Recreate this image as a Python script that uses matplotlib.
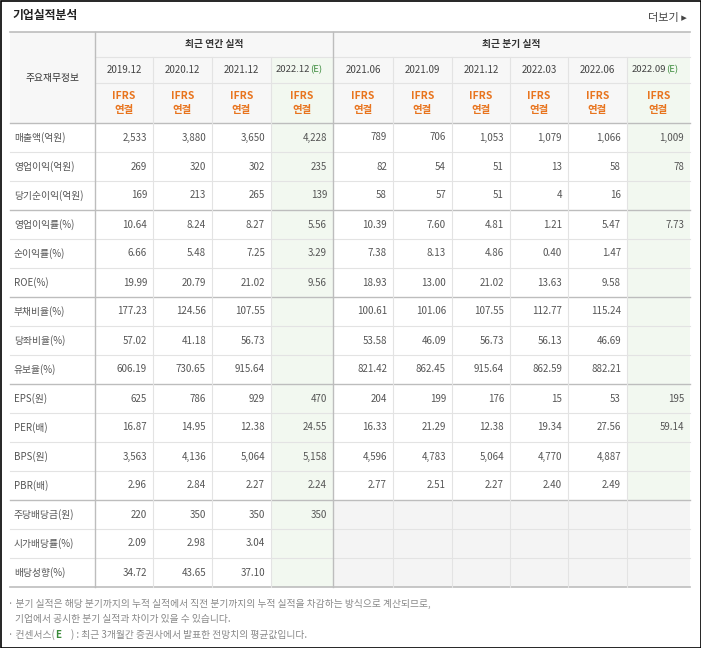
import matplotlib.pyplot as plt
from matplotlib.patches import Rectangle

plt.rcParams['font.family'] = ['Noto Sans CJK JP', 'Noto Sans CJK KR', 'Noto Sans CJK SC', 'DejaVu Sans']
plt.rcParams['axes.unicode_minus'] = False

# ===== 데이터 =====
annual_periods = ['2019.12', '2020.12', '2021.12', '2022.12']
quarter_periods = ['2021.06', '2021.09', '2021.12', '2022.03', '2022.06', '2022.09']
row_labels = ['매출액(억원)', '영업이익(억원)', '당기순이익(억원)',
              '영업이익률(%)', '순이익률(%)', 'ROE(%)',
              '부채비율(%)', '당좌비율(%)', '유보율(%)',
              'EPS(원)', 'PER(배)', 'BPS(원)', 'PBR(배)',
              '주당배당금(원)', '시가배당률(%)', '배당성향(%)']
annual_values = [
    ['2,533', '3,880', '3,650', '4,228'],
    ['269', '320', '302', '235'],
    ['169', '213', '265', '139'],
    ['10.64', '8.24', '8.27', '5.56'],
    ['6.66', '5.48', '7.25', '3.29'],
    ['19.99', '20.79', '21.02', '9.56'],
    ['177.23', '124.56', '107.55', ''],
    ['57.02', '41.18', '56.73', ''],
    ['606.19', '730.65', '915.64', ''],
    ['625', '786', '929', '470'],
    ['16.87', '14.95', '12.38', '24.55'],
    ['3,563', '4,136', '5,064', '5,158'],
    ['2.96', '2.84', '2.27', '2.24'],
    ['220', '350', '350', '350'],
    ['2.09', '2.98', '3.04', ''],
    ['34.72', '43.65', '37.10', ''],
]
quarter_values = [
    ['789', '706', '1,053', '1,079', '1,066', '1,009'],
    ['82', '54', '51', '13', '58', '78'],
    ['58', '57', '51', '4', '16', ''],
    ['10.39', '7.60', '4.81', '1.21', '5.47', '7.73'],
    ['7.38', '8.13', '4.86', '0.40', '1.47', ''],
    ['18.93', '13.00', '21.02', '13.63', '9.58', ''],
    ['100.61', '101.06', '107.55', '112.77', '115.24', ''],
    ['53.58', '46.09', '56.73', '56.13', '46.69', ''],
    ['821.42', '862.45', '915.64', '862.59', '882.21', ''],
    ['204', '199', '176', '15', '53', '195'],
    ['16.33', '21.29', '12.38', '19.34', '27.56', '59.14'],
    ['4,596', '4,783', '5,064', '4,770', '4,887', ''],
    ['2.77', '2.51', '2.27', '2.40', '2.49', ''],
    ['', '', '', '', '', ''],
    ['', '', '', '', '', ''],
    ['', '', '', '', '', ''],
]
group_breaks = [3, 6, 9, 13]  # 그룹 구분선 위치(행 인덱스)

# ===== 레이아웃 (픽셀 좌표) =====
W, H = 701, 648
fig = plt.figure(figsize=(W / 100, H / 100), dpi=100)
ax = fig.add_axes([0, 0, 1, 1])
ax.set_xlim(0, W)
ax.set_ylim(H, 0)
ax.axis('off')

col_x = [10, 95, 153, 212, 271, 333, 393, 452, 510, 568, 627, 690]
top, h1, h2, h3 = 32, 57, 83, 123
row_h = 29
bottom = h3 + row_h * len(row_labels)

GRID = '#e3e3e3'
DARK = '#bdbdbd'
TXT = '#555555'
ORANGE = '#e8741e'
GREEN = '#3a8a3a'
EST_BG = '#f2f8f0'
HEAD_BG = '#f7f7f7'

def rect(x0, y0, x1, y1, c):
    ax.add_patch(Rectangle((x0, y0), x1 - x0, y1 - y0, facecolor=c, edgecolor='none', zorder=0))

# 배경
rect(col_x[0], top, col_x[-1], h3, HEAD_BG)
for c in (4, 10):
    rect(col_x[c], h1, col_x[c + 1], bottom, EST_BG)
rect(col_x[5], h3 + row_h * 13, col_x[-1], bottom, '#f4f4f4')

# 외곽 프레임
ax.add_patch(Rectangle((0.5, 0.5), W - 1, H - 1, facecolor='none', edgecolor='black', lw=1.2))

ax.text(12, 15, '기업실적분석', fontsize=8.5, fontweight='bold', color='#222', va='center')
ax.text(687, 18, '더보기 ▸', fontsize=8, color='#444', va='center', ha='right')

# 수평선
ax.plot([col_x[0], col_x[-1]], [top, top], color=DARK, lw=1.2)
ax.plot([col_x[1], col_x[-1]], [h1, h1], color=GRID, lw=0.8)
ax.plot([col_x[1], col_x[-1]], [h2, h2], color=GRID, lw=0.8)
ax.plot([col_x[0], col_x[-1]], [h3, h3], color=DARK, lw=1.0)
for i in range(1, len(row_labels)):
    y = h3 + row_h * i
    dark = i in group_breaks
    ax.plot([col_x[0], col_x[-1]], [y, y], color=DARK if dark else GRID, lw=1.0 if dark else 0.8)
ax.plot([col_x[0], col_x[-1]], [bottom, bottom], color=DARK, lw=1.2)

# 수직선
for j, x in enumerate(col_x[1:-1], start=1):
    y0 = top if j in (1, 5) else h1
    ax.plot([x, x], [y0, bottom], color=DARK if j in (1, 5) else GRID, lw=1.0 if j in (1, 5) else 0.8)

# 헤더
ax.text(col_x[0] + 42, (top + h3) / 2, '주요재무정보', fontsize=7, color='#333', ha='center', va='center')
ax.text((col_x[1] + col_x[5]) / 2, (top + h1) / 2, '최근 연간 실적', fontsize=7, fontweight='bold',
        color='#333', ha='center', va='center')
ax.text((col_x[5] + col_x[-1]) / 2, (top + h1) / 2, '최근 분기 실적', fontsize=7, fontweight='bold',
        color='#333', ha='center', va='center')
periods = annual_periods + quarter_periods
for j, p in enumerate(periods):
    cx = (col_x[j + 1] + col_x[j + 2]) / 2
    if j in (3, 9):
        ax.text(cx + 8, (h1 + h2) / 2, p, fontsize=6.8, color='#444', ha='right', va='center')
        ax.text(cx + 8, (h1 + h2) / 2, '(E)', fontsize=6.8, color=GREEN, ha='left', va='center')
    else:
        ax.text(cx, (h1 + h2) / 2, p, fontsize=7, color='#444', ha='center', va='center')
    ax.text(cx, (h2 + h3) / 2 - 7, 'IFRS', fontsize=7.5, fontweight='bold', color=ORANGE, ha='center', va='center')
    ax.text(cx, (h2 + h3) / 2 + 7, '연결', fontsize=7.5, fontweight='bold', color=ORANGE, ha='center', va='center')

# 본문
for i, label in enumerate(row_labels):
    cy = h3 + row_h * i + row_h / 2
    ax.text(col_x[0] + 4, cy, label, fontsize=7, color=TXT, va='center')
    vals = annual_values[i] + quarter_values[i]
    for j, v in enumerate(vals):
        ax.text(col_x[j + 2] - 6, cy, v, fontsize=7, color=TXT, ha='right', va='center')

# 주석
ax.text(8, 604, '· 분기 실적은 해당 분기까지의 누적 실적에서 직전 분기까지의 누적 실적을 차감하는 방식으로 계산되므로,',
        fontsize=7, color='#888', va='center')
ax.text(15, 619, '기업에서 공시한 분기 실적과 차이가 있을 수 있습니다.', fontsize=7, color='#888', va='center')
t = ax.text(8, 635, '· 컨센서스(', fontsize=7, color='#888', va='center')
ax.annotate('E', xycoords=t, xy=(1, 0.5), va='center', fontsize=7, color=GREEN, fontweight='bold')
ax.text(71, 635, ') : 최근 3개월간 증권사에서 발표한 전망치의 평균값입니다.', fontsize=7, color='#888', va='center')

plt.savefig('out.png', dpi=100)
